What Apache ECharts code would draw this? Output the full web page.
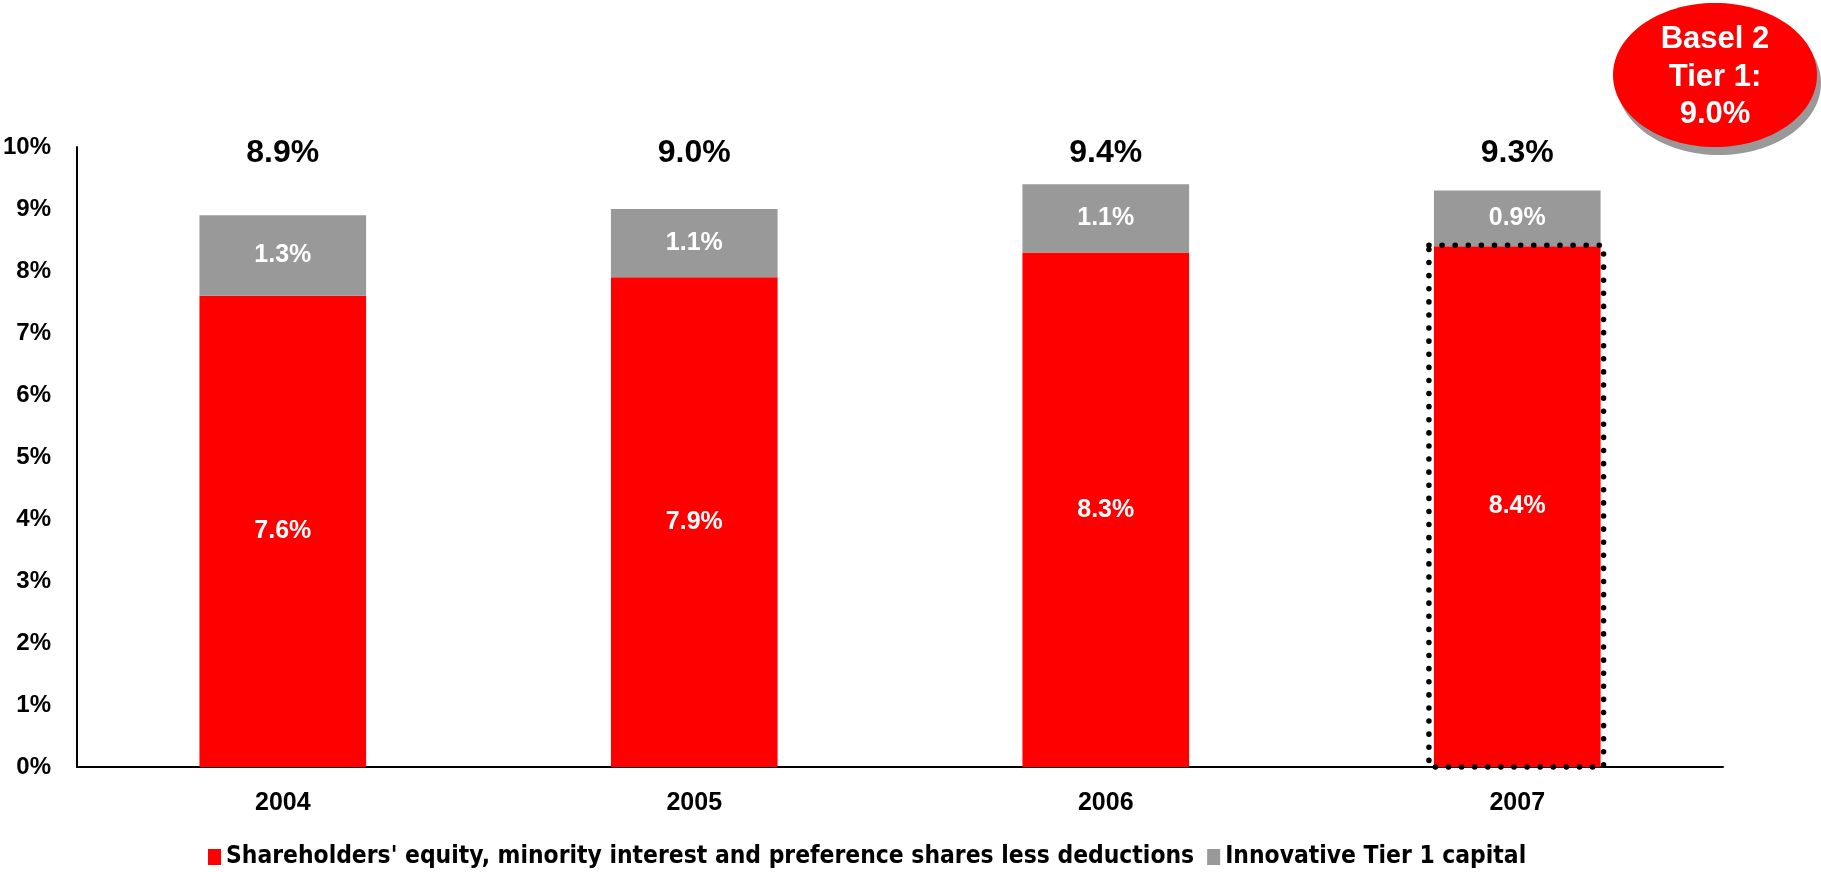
<!DOCTYPE html>
<html>
<head>
<meta charset="utf-8">
<script src="https://cdn.jsdelivr.net/npm/echarts@6/dist/echarts.min.js"></script>
<style>
  html, body { margin: 0; padding: 0; background: #ffffff; }
  #chart { width: 1821px; height: 872px; }
</style>
</head>
<body>
<div id="chart"></div>
<script>
// Tier 1 capital ratio by year, split into its two components (percent)
var years = ['2004', '2005', '2006', '2007'];
var equityCapital = [7.6, 7.9, 8.3, 8.4];      // Shareholders' equity, minority interest and preference shares less deductions
var innovativeCapital = [1.3, 1.1, 1.1, 0.9];  // Innovative Tier 1 capital
var highlightedYears = ['2007'];               // pro-forma year outlined with a dotted frame
var yTicks = [0, 1, 2, 3, 4, 5, 6, 7, 8, 9, 10];
var seriesNames = [
  "Shareholders' equity, minority interest and preference shares less deductions",
  'Innovative Tier 1 capital'
];
var baselNote = ['Basel 2', 'Tier 1:', '9.0%'];

var FONT = '"Liberation Sans", Arial, sans-serif';
var NARROW = '"Liberation Sans Narrow", "Arial Narrow", "DejaVu Sans Condensed", sans-serif';
var RED = '#ff0000';
var GREY = '#999999';

var totals = years.map(function (y, i) { return equityCapital[i] + innovativeCapital[i]; });
var totalRowLevel = 9.9; // row of total labels just under the 10% line

var chart = echarts.init(document.getElementById('chart'), null, { renderer: 'canvas' });

var insideLabel = {
  show: true,
  position: 'inside',
  color: '#ffffff',
  fontFamily: FONT,
  fontWeight: 'bold',
  fontSize: 25,
  formatter: function (p) { return p.value.toFixed(1) + '%'; }
};

var ellipse = { cx: 1715, cy: 75, rx: 102, ry: 72 };

chart.setOption({
  animation: false,
  backgroundColor: '#ffffff',
  grid: { left: 74, right: 98, top: 147, bottom: 105, containLabel: false },
  legend: {
    left: 203,
    top: 840,
    itemWidth: 13,
    itemHeight: 16,
    itemGap: 13,
    icon: 'rect',
    data: seriesNames,
    textStyle: { fontFamily: NARROW, fontWeight: 'bold', fontSize: 24.4, color: '#000000' }
  },
  xAxis: {
    type: 'category',
    data: years,
    boundaryGap: true,
    axisLine: { show: true, lineStyle: { color: '#000000', width: 2 } },
    axisTick: { show: false },
    axisLabel: { color: '#000000', fontFamily: FONT, fontWeight: 'bold', fontSize: 25, margin: 24 },
    splitLine: { show: false }
  },
  yAxis: {
    type: 'value',
    min: yTicks[0],
    max: yTicks[yTicks.length - 1],
    interval: 1,
    axisLine: { show: true, lineStyle: { color: '#000000', width: 2 } },
    axisTick: { show: false },
    splitLine: { show: false },
    axisLabel: {
      color: '#000000', fontFamily: FONT, fontWeight: 'bold', fontSize: 24, margin: 26,
      formatter: function (v) { return v + '%'; }
    }
  },
  series: [
    {
      name: seriesNames[0],
      type: 'bar',
      stack: 'tier1',
      barWidth: '40.5%',
      itemStyle: { color: RED },
      label: insideLabel,
      data: equityCapital
    },
    {
      name: seriesNames[1],
      type: 'bar',
      stack: 'tier1',
      barWidth: '40.5%',
      itemStyle: { color: GREY },
      label: insideLabel,
      data: innovativeCapital
    },
    {
      // total ratio printed above each column
      name: 'total',
      type: 'custom',
      silent: true,
      z: 5,
      data: totals.map(function (t, i) { return [i, totalRowLevel, t]; }),
      renderItem: function (params, api) {
        var p = api.coord([api.value(0), api.value(1)]);
        return {
          type: 'text',
          x: p[0],
          y: p[1],
          style: {
            text: api.value(2).toFixed(1) + '%',
            fill: '#000000',
            font: 'bold 32px ' + FONT,
            align: 'center',
            verticalAlign: 'middle'
          }
        };
      }
    },
    {
      // dotted frame around the equity part of highlighted years
      name: 'frame',
      type: 'custom',
      silent: true,
      z: 6,
      data: highlightedYears.map(function (y) {
        var i = years.indexOf(y);
        return [i, equityCapital[i]];
      }),
      renderItem: function (params, api) {
        var top = api.coord([api.value(0), api.value(1)]);
        var base = api.coord([api.value(0), 0]);
        var band = api.size([1, 0])[0];
        var w = band * 0.405;
        var x0 = top[0] - w / 2 - 5;
        var x1 = top[0] + w / 2 + 3;
        return {
          type: 'rect',
          shape: { x: x0, y: top[1] - 1, width: x1 - x0, height: base[1] - top[1] + 1 },
          style: {
            fill: 'none',
            stroke: '#000000',
            lineWidth: 5.5,
            lineDash: [0.1, 13],
            lineCap: 'round'
          }
        };
      }
    }
  ],
  graphic: [
    {
      type: 'ellipse',
      shape: { cx: ellipse.cx + 4, cy: ellipse.cy + 8, rx: ellipse.rx, ry: ellipse.ry },
      style: { fill: GREY },
      z: 10
    },
    {
      type: 'ellipse',
      shape: { cx: ellipse.cx, cy: ellipse.cy, rx: ellipse.rx, ry: ellipse.ry },
      style: { fill: RED },
      z: 11
    },
    {
      type: 'text',
      x: ellipse.cx,
      y: ellipse.cy + 2,
      z: 12,
      style: {
        text: baselNote.join('\n'),
        fill: '#ffffff',
        font: 'bold 31px ' + FONT,
        lineHeight: 37.5,
        align: 'center',
        verticalAlign: 'middle'
      }
    }
  ]
});
</script>
</body>
</html>
